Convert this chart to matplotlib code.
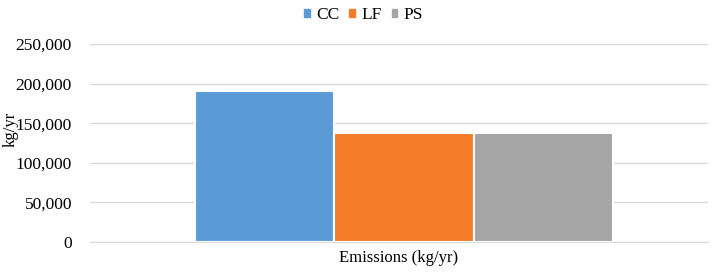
import matplotlib.pyplot as plt
from matplotlib.patches import Patch
from matplotlib.ticker import FuncFormatter

plt.rcParams['font.family'] = ['Liberation Serif', 'DejaVu Serif']

series = ["CC", "LF", "PS"]
values = [191000, 138000, 138000]
colors = ["#5B9BD5", "#F47D2A", "#A5A5A5"]
category = "Emissions (kg/yr)"
yticks = [0, 50000, 100000, 150000, 200000, 250000]

fig = plt.figure(figsize=(7.2, 2.73), dpi=100)
ax = fig.add_axes([0.125, 0.1136, 0.858, 0.725])

width = 0.2256
for i, (name, v, c) in enumerate(zip(series, values, colors)):
    ax.bar((i - 1) * width + 0.008, v, width=width, color=c,
           edgecolor="white", linewidth=1.5, zorder=3)

ax.set_xlim(-0.5, 0.5)
ax.set_ylim(0, 250000)
ax.set_yticks(yticks)
ax.yaxis.set_major_formatter(FuncFormatter(lambda v, p: f"{int(v):,}"))
ax.set_xticks([0])
ax.set_xticklabels([category])
ax.tick_params(axis="x", length=0, pad=6, labelsize=12)
ax.tick_params(axis="y", length=0, pad=13, labelsize=12.5)
ax.grid(axis="y", color="#D9D9D9", linewidth=1, zorder=0)
for s in ["top", "right", "left"]:
    ax.spines[s].set_visible(False)
ax.spines["bottom"].set_color("#D9D9D9")
ax.set_ylabel("kg/yr", fontsize=12)
ax.yaxis.set_label_coords(-0.116, 0.57)

# small square markers like the excel legend
handles = [Patch(color=c, label=n) for n, c in zip(series, colors)]
fig.legend(handles=handles, loc="upper center", bbox_to_anchor=(0.505, 1.03),
           ncol=3, frameon=False, fontsize=12.5, handlelength=0.32,
           handleheight=0.32, handletextpad=0.35, columnspacing=0.6)

fig.savefig("out.png", dpi=100)
